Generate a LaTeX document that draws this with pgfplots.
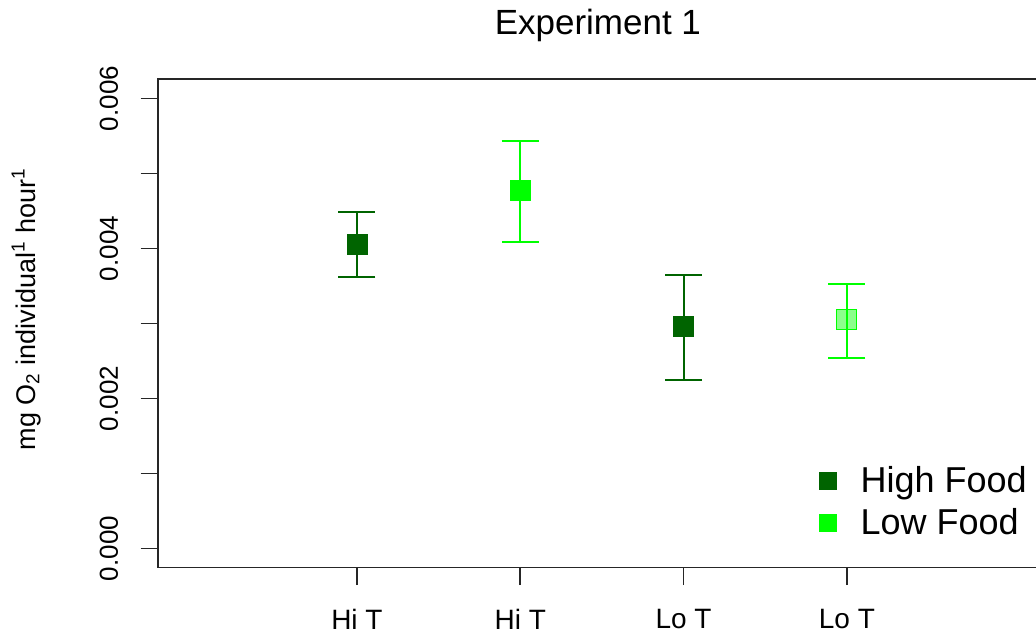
\documentclass[border=0pt]{standalone}
\usepackage{pgfplots}
\pgfplotsset{compat=1.18}
\usepackage{fontspec}
\setmainfont{Liberation Sans}
\definecolor{dkgreen}{RGB}{0,100,0}
\definecolor{ltgreen}{RGB}{0,255,0}
\begin{document}
\begin{tikzpicture}
\begin{axis}[
  at={(79pt,34.75pt)}, anchor=south west,
  scale only axis, width=443.9pt, height=244.1pt,
  xmin=-0.218, xmax=5.218, ymin=-0.000253, ymax=0.006256,
  xtick={1,2,3,4}, xticklabels={Hi T,Hi T,Lo T,Lo T},
  ytick={0,0.001,0.002,0.003,0.004,0.005,0.006},
  yticklabels={0.000,,0.002,,0.004,,0.006},
  scaled y ticks=false,
  tick align=outside, xtick pos=bottom, ytick pos=left,
  major tick length=8.75pt,
  tick style={black!85, line width=0.9pt},
  axis line style={black!85, line width=0.9pt},
  xticklabel style={font=\fontsize{14}{16}\selectfont, anchor=north, inner sep=0pt, yshift=-12pt},
  yticklabel style={font=\fontsize{13}{15}\selectfont, rotate=90, anchor=south, inner sep=0pt, yshift=11pt},
  ylabel={mg O\textsubscript{2} individual\textsuperscript{1} hour\textsuperscript{1}},
  ylabel style={font=\fontsize{13.5}{16}\selectfont, at={(axis description cs:-0.1385,0.5295)}, anchor=base},
  title={Experiment 1},
  title style={font=\fontsize{17.5}{21}\selectfont, at={(axis description cs:0.4955,1)}, anchor=base, yshift=16.15pt},
  legend style={at={(axis description cs:0.738,0.225)}, anchor=north west, draw=none, fill=none,
    font=\fontsize{18}{20.5}\selectfont, row sep=2.5pt},
  legend cell align=left,
  clip=false,
]
% error bars
\addplot[draw=none, mark=none, forget plot,
  error bars/.cd, y dir=both, y explicit,
  error bar style={dkgreen, line width=1pt},
  error mark options={dkgreen, mark size=9.25pt, line width=1pt, rotate=90}]
  coordinates {
    (1,0.00406) += (0,0.00042) -= (0,0.00044)
    (3,0.00296) += (0,0.00068) -= (0,0.00071)
  };
\addplot[draw=none, mark=none, forget plot,
  error bars/.cd, y dir=both, y explicit,
  error bar style={ltgreen, line width=1pt},
  error mark options={ltgreen, mark size=9.25pt, line width=1pt, rotate=90}]
  coordinates {
    (2,0.00477) += (0,0.00066) -= (0,0.00069)
    (4,0.00305) += (0,0.00048) -= (0,0.00051)
  };
% points
\addplot[dkgreen, only marks, mark=square*, mark size=5pt, forget plot, mark options={fill=dkgreen, draw=none}]
  coordinates {(1,0.00406) (3,0.00296)};
\addplot[ltgreen, only marks, mark=square*, mark size=5pt, forget plot, mark options={fill=ltgreen, draw=none}]
  coordinates {(2,0.00477)};
\addplot[ltgreen, only marks, mark=square*, mark size=5pt, forget plot, mark options={fill=ltgreen, draw=none, fill opacity=0.45}]
  coordinates {(4,0.00305)};
% legend
\addlegendimage{dkgreen, only marks, mark=square*, mark size=4.25pt, mark options={fill=dkgreen, draw=none}}
\addlegendentry{\hspace{10pt}High Food}
\addlegendimage{ltgreen, only marks, mark=square*, mark size=4.25pt, mark options={fill=ltgreen, draw=none}}
\addlegendentry{\hspace{10pt}Low Food}
\end{axis}
\pgfresetboundingbox
\path[use as bounding box] (0,0) rectangle (518pt,318.5pt);
\end{tikzpicture}
\end{document}
